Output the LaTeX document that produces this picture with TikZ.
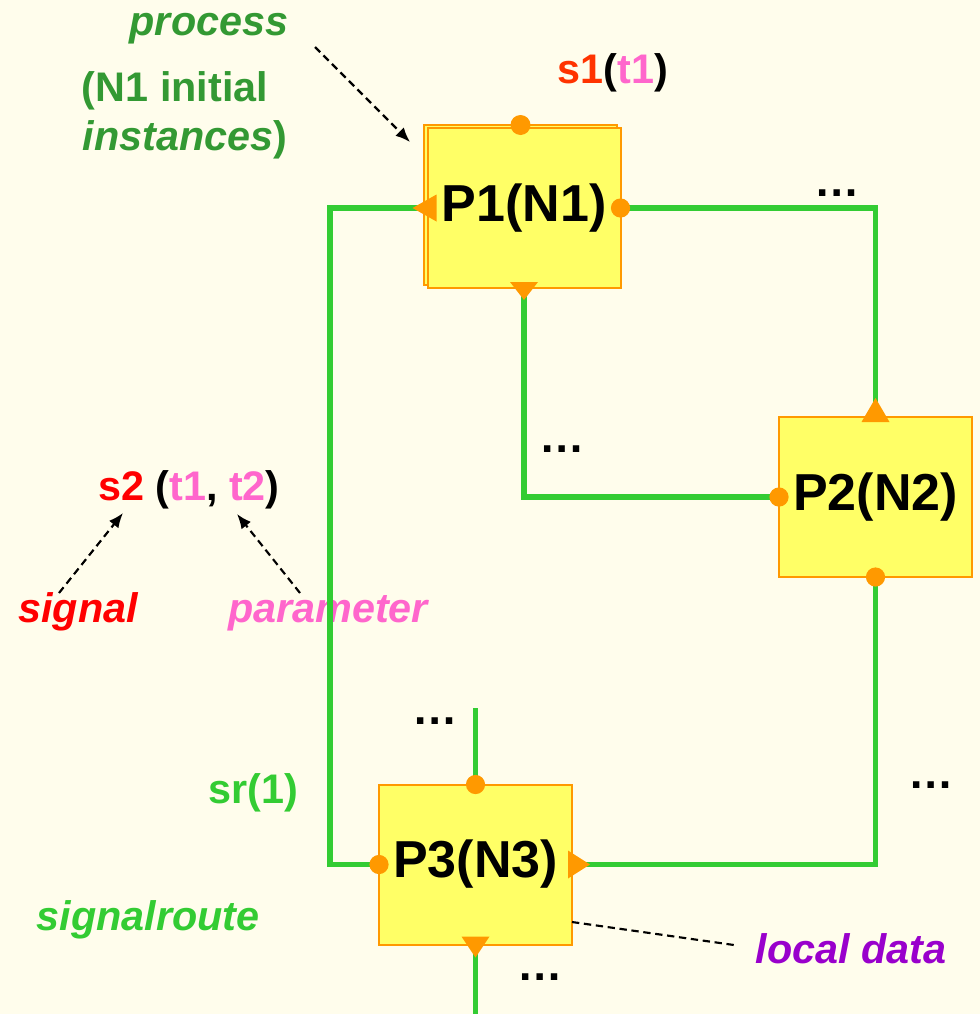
\documentclass[tikz,border=0pt]{standalone}
\usepackage{fontspec}
\setmainfont{Liberation Sans}
\usetikzlibrary{arrows.meta,calc}
\definecolor{bg}{HTML}{FFFDEC}
\definecolor{lgreen}{HTML}{33CC33}
\definecolor{dgreen}{HTML}{339933}
\definecolor{sred}{HTML}{FF0000}
\definecolor{sorange}{HTML}{FF3300}
\definecolor{pink}{HTML}{FF66CC}
\definecolor{purp}{HTML}{9900CC}
\definecolor{boxfill}{HTML}{FFFF66}
\definecolor{boxline}{HTML}{FF9900}
\definecolor{mk}{HTML}{FF9900}
\tikzset{
  procbox/.style={draw=boxline,fill=boxfill,line width=1.5pt,inner sep=0pt,outer sep=0pt,
    minimum width=144.75pt,minimum height=120pt,font=\fontsize{39}{46}\selectfont\bfseries},
  txt/.style={inner sep=0pt,anchor=base,font=\fontsize{31}{37}\selectfont\bfseries},
  dotstxt/.style={inner sep=0pt,anchor=base,font=\fontsize{34}{40}\selectfont\bfseries},
  route/.style={draw=lgreen,line width=3.8pt},
  note/.style={draw=black,line width=1.6pt,dash pattern=on 5.5pt off 3.5pt},
  notearrow/.style={note,-{Latex[length=11pt,width=9pt]}},
  mkfill/.style={fill=mk},
}
\begin{document}
\begin{tikzpicture}[x=0.75pt,y=-0.75pt]
\fill[bg] (0,0) rectangle (980,1014);
\useasboundingbox (0,0) rectangle (980,1014);

% process boxes
\node[procbox] (P1back) at (520.5,205) {};
\node[procbox] (P1) at (524,208) {P1(N1)};
\node[procbox] (P2) at (875.5,497) {P2(N2)};
\node[procbox] (P3) at (475.5,864.5) {P3(N3)};

% corners and free ends of signal routes
\coordinate (c1) at (330,864.5);
\coordinate (c2) at (330,208);
\coordinate (c3) at (875.5,208);
\coordinate (c4) at (524,497);
\coordinate (c5) at (875.5,864.5);
\coordinate (topend) at (475.5,708);
\coordinate (botend) at (475.5,1014);

% signal routes
\draw[route] (P3.west) -- (c1) -- (c2) -- (P1.west);
\draw[route] (P1.east) -- (c3) -- (P2.north);
\draw[route] (P1.south) -- (c4) -- (P2.west);
\draw[route] (P2.south) -- (c5) -- (P3.east);
\draw[route] (topend) -- (P3.north);
\draw[route] (P3.south) -- (botend);

% gates
\fill[mkfill] (P1back.north) circle[radius=7.5pt];
\fill[mkfill] (P1.east) circle[radius=7.2pt];
\fill[mkfill] (P1.west) ++(-15,0) -- ++(24,-13.5) -- ++(0,27) -- cycle;
\fill[mkfill] (P1.south) ++(0,12) -- ++(-14,-18) -- ++(28,0) -- cycle;
\fill[mkfill] (P2.north) ++(0,-19) -- ++(-14,24) -- ++(28,0) -- cycle;
\fill[mkfill] (P2.west) circle[radius=7.2pt];
\fill[mkfill] (P2.south) circle[radius=7.2pt];
\fill[mkfill] (P3.north) circle[radius=7.2pt];
\fill[mkfill] (P3.west) circle[radius=7.2pt];
\fill[mkfill] (P3.east) ++(18,0) -- ++(-22,-14) -- ++(0,28) -- cycle;
\fill[mkfill] (P3.south) ++(0,13) -- ++(-14,-21) -- ++(28,0) -- cycle;

% dots
\node[dotstxt] (d1) at (837,196) {…};
\node[dotstxt] (d2) at (562,452) {…};
\node[dotstxt] (d3) at (435,724) {…};
\node[dotstxt] (d4) at (931,788) {…};
\node[dotstxt] (d5) at (540,980) {…};

% labels
\node[txt,text=dgreen] (process) at (209,35) {\itshape process};
\node[txt,text=dgreen] (ninit) at (175,101) {(N1 initial};
\node[txt,text=dgreen] (inst) at (185,150) {\itshape instances\upshape)};
\node[txt] (s1) at (613,83) {\textcolor{sorange}{s1}(\textcolor{pink}{t1})};
\node[txt] (s2) at (189,500) {\textcolor{sred}{s2} (\textcolor{pink}{t1}, \textcolor{pink}{t2})};
\node[txt,text=sred] (signal) at (78,622) {\itshape signal};
\node[txt,text=pink] (param) at (328,622) {\itshape parameter};
\node[txt,text=lgreen] (sr) at (253,803) {sr(1)};
\node[txt,text=lgreen] (sroute) at (148,930) {\itshape signalroute};
\node[txt,text=purp] (local) at (851,963) {\itshape local data};

% annotation arrows
\coordinate (a1s) at (315,47);
\coordinate (a1e) at (410,142);
\coordinate (a2s) at (59,593);
\coordinate (a2e) at (123,513);
\coordinate (a3s) at (300,593);
\coordinate (a3e) at (237,514);
\coordinate (a4s) at (572,922);
\coordinate (a4e) at (734,945);
\draw[notearrow] (a1s) -- (a1e);
\draw[notearrow] (a2s) -- (a2e);
\draw[notearrow] (a3s) -- (a3e);
\draw[note] (a4s) -- (a4e);

% route drawn over the parameter label, as in the reference
\draw[route] (c1) -- (c2);
\end{tikzpicture}
\end{document}
